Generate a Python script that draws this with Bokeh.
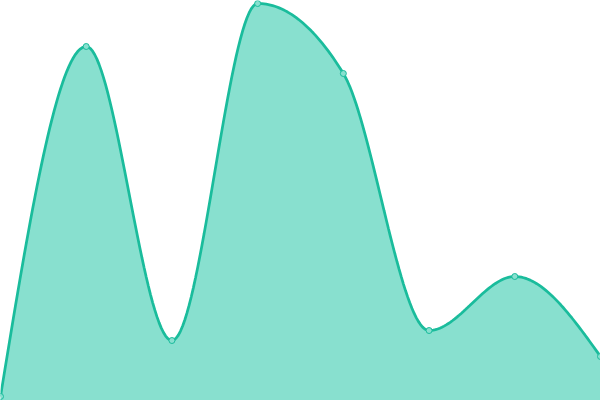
import numpy as np
from bokeh.plotting import figure
from bokeh.models import Range1d
from bokeh.embed import file_html
from bokeh.resources import INLINE

# Data
x_vals = [0, 1, 2, 3, 4, 5, 6, 7]
y_vals = [4, 354, 60, 397, 327, 70, 124, 44]

LINE = "#1abc9c"
FILL = "#88e0cf"


def monotone_curve(xs, ys, n=40):
    xs = np.asarray(xs, float)
    ys = np.asarray(ys, float)
    m = len(xs)
    h = np.diff(xs)
    s = np.diff(ys) / h
    t = np.zeros(m)
    for i in range(1, m - 1):
        if s[i - 1] * s[i] <= 0:
            t[i] = 0.0
        else:
            p = (s[i - 1] * h[i] + s[i] * h[i - 1]) / (h[i - 1] + h[i])
            t[i] = (np.sign(s[i - 1]) + np.sign(s[i])) * min(abs(s[i - 1]), abs(s[i]), 0.5 * abs(p))
    t[0] = (3 * s[0] - t[1]) / 2
    t[-1] = (3 * s[-1] - t[-2]) / 2
    cx, cy = [], []
    for i in range(m - 1):
        x0, x1 = xs[i], xs[i + 1]
        y0, y1 = ys[i], ys[i + 1]
        dx = (x1 - x0) / 3
        p0 = (x0, y0)
        p1 = (x0 + dx, y0 + dx * t[i])
        p2 = (x1 - dx, y1 - dx * t[i + 1])
        p3 = (x1, y1)
        u = np.linspace(0, 1, n, endpoint=(i == m - 2))
        bx = (1 - u) ** 3 * p0[0] + 3 * (1 - u) ** 2 * u * p1[0] + 3 * (1 - u) * u ** 2 * p2[0] + u ** 3 * p3[0]
        by = (1 - u) ** 3 * p0[1] + 3 * (1 - u) ** 2 * u * p1[1] + 3 * (1 - u) * u ** 2 * p2[1] + u ** 3 * p3[1]
        cx.extend(bx)
        cy.extend(by)
    return np.array(cx), np.array(cy)


cx, cy = monotone_curve(x_vals, y_vals)

p = figure(width=600, height=400, output_backend="svg", toolbar_location=None,
           x_range=Range1d(0, 7), y_range=Range1d(0, 400), min_border=0)
p.axis.visible = False
p.grid.visible = False
p.outline_line_color = None
p.background_fill_color = "white"
p.border_fill_color = "white"

p.varea(x=cx, y1=np.zeros_like(cy), y2=cy, fill_color=FILL, fill_alpha=1.0)
p.line(cx, cy, line_color=LINE, line_width=2.75)
p.scatter(x_vals, y_vals, size=6, fill_color=FILL, line_color=LINE, line_width=1)

open("out.html", "w").write(file_html(p, INLINE))
